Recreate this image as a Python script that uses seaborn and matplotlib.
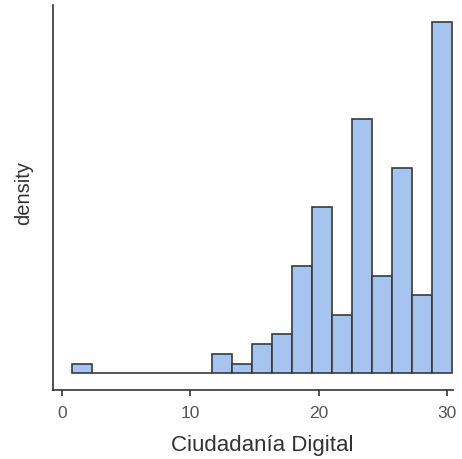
import numpy as np
import pandas as pd
import matplotlib
matplotlib.use("Agg")
import matplotlib.pyplot as plt
import seaborn as sns

# histogram: 19 equal bins, counts per bin
bin_start = 0.78
bin_width = 1.558
counts = [1, 0, 0, 0, 0, 0, 0, 2, 1, 3, 4, 11, 17, 6, 26, 10, 21, 8, 36]
xticks = [0, 10, 20, 30]

edges = bin_start + bin_width * np.arange(len(counts) + 1)
centers = (edges[:-1] + edges[1:]) / 2
df = pd.DataFrame({"ciudadania": centers, "n": counts})
total = sum(counts)

sns.set_style("white")
plt.rcParams["font.family"] = ["Liberation Sans", "DejaVu Sans"]

fig = plt.figure(figsize=(4.62, 4.59), dpi=100)
ax = fig.add_axes([0.1154, 0.1503, 0.865, 0.8387])

sns.histplot(data=df, x="ciudadania", weights="n", bins=list(edges), stat="density",
             color="#A6C4F0", alpha=1, edgecolor="#3a3a3a", linewidth=1.2, ax=ax)

ax.set_xlim(-0.68, 30.45)
ax.set_ylim(-1.7 / (total * bin_width), 37.7 / (total * bin_width))
ax.set_xticks(xticks)
ax.set_yticks([])
ax.set_xlabel("Ciudadanía Digital", fontsize=16, color="#333333")
ax.set_ylabel("density", fontsize=14.5, color="#333333")
ax.xaxis.set_label_coords(0.523, -0.118)
ax.yaxis.set_label_coords(-0.051, 0.513)
ax.tick_params(axis="x", labelsize=12.5, labelcolor="#555555", color="#333333",
               length=4, width=1.2, bottom=True, pad=7.5)
sns.despine(ax=ax)
for s in ["left", "bottom"]:
    ax.spines[s].set_color("#333333")
    ax.spines[s].set_linewidth(1.2)

fig.savefig("out.png", dpi=100)
